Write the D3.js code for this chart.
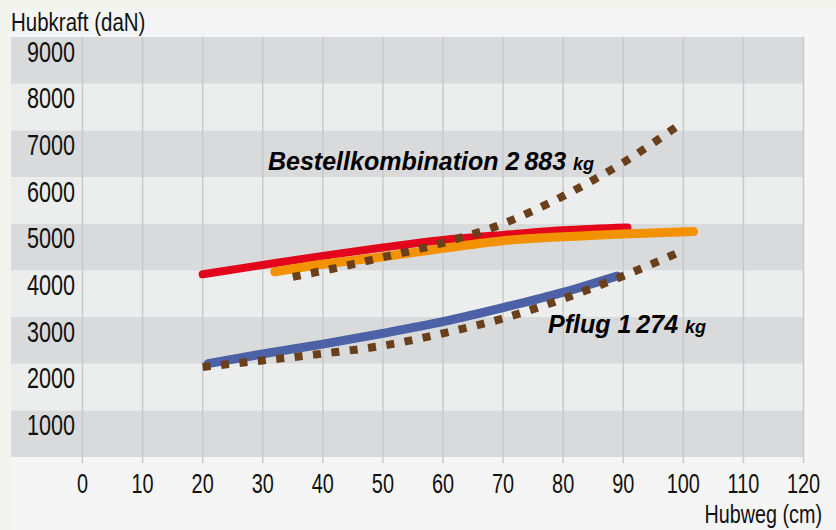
<!DOCTYPE html>
<html>
<head>
<meta charset="utf-8">
<script src="https://cdn.jsdelivr.net/npm/d3@7"></script>
<style>
  body { margin: 0; background: #f4f4ee; }
  svg { display: block; }
  .ax { font-family: "Liberation Sans", Arial, sans-serif; fill: #111; }
  .note { font-family: "Liberation Sans", Arial, sans-serif; font-weight: bold; font-style: italic; fill: #000; }
</style>
</head>
<body>
<div id="chart"></div>
<script>
// tick values
var xTicks = [0, 10, 20, 30, 40, 50, 60, 70, 80, 90, 100, 110, 120];
var yTicks = [1000, 2000, 3000, 4000, 5000, 6000, 7000, 8000, 9000];

// Bestellkombination (solid red / orange, dotted brown)
var redX = [20, 30, 40, 50, 60, 70, 80, 90.7];
var redY = [3915, 4115, 4310, 4490, 4650, 4760, 4860, 4920];
var orangeX = [32, 40, 50, 60, 70, 80, 90, 101.7];
var orangeY = [3970, 4130, 4290, 4470, 4635, 4720, 4780, 4830];
var bestDotX = [35, 40, 50, 60, 70, 80, 90, 100];
var bestDotY = [3860, 3990, 4280, 4590, 5000, 5590, 6310, 7180];

// Pflug
var blueX = [20.9, 30, 40, 50, 60, 70, 80, 89];
var blueY = [2000, 2210, 2420, 2650, 2900, 3200, 3530, 3880];
var pflugDotX = [20, 30, 40, 50, 60, 70, 80, 90, 99];
var pflugDotY = [1930, 2070, 2215, 2385, 2650, 2970, 3390, 3880, 4370];

var W = 836, H = 530;

var svg = d3.select("#chart").append("svg")
  .attr("width", W)
  .attr("height", H);

// inner panel
svg.append("rect")
  .attr("x", 11).attr("y", 9)
  .attr("width", W - 11).attr("height", H - 9)
  .attr("fill", "#f5f5f5");

var x = d3.scaleLinear().domain([0, 120]).range([82.5, 803.5]);
var y = d3.scaleLinear().domain([0, 9000]).range([457, 37]);

// horizontal bands
var bands = d3.range(0, 9000, 1000);
svg.selectAll("rect.band")
  .data(bands)
  .join("rect")
  .attr("class", "band")
  .attr("x", 11)
  .attr("width", x(120) - 11)
  .attr("y", function(d) { return y(d + 1000); })
  .attr("height", function(d) { return y(d) - y(d + 1000); })
  .attr("fill", function(d) { return (d / 1000) % 2 == 0 ? "#d9dadc" : "#eceeed"; });

// vertical grid
svg.selectAll("line.grid")
  .data(xTicks)
  .join("line")
  .attr("class", "grid")
  .attr("x1", function(d) { return x(d); })
  .attr("x2", function(d) { return x(d); })
  .attr("y1", y(9000))
  .attr("y2", y(0) + 6)
  .attr("stroke", "#c8c9cb")
  .attr("stroke-width", 1.5);

// narrow text: the original uses a condensed face
function narrow(sel, px, py, sx) {
  sel.attr("transform", "translate(" + px + "," + py + ") scale(" + sx + ",1)");
}

// x labels
svg.selectAll("text.xl")
  .data(xTicks)
  .join("text")
  .attr("class", "ax")
  .attr("text-anchor", "middle")
  .style("font-size", "28px")
  .each(function(d) { narrow(d3.select(this), x(d), 493, 0.71); })
  .text(function(d) { return d; });

// y labels (sit just under their value)
svg.selectAll("text.yl")
  .data(yTicks)
  .join("text")
  .attr("class", "ax")
  .attr("text-anchor", "end")
  .style("font-size", "30px")
  .each(function(d) { narrow(d3.select(this), 75, y(d) + 24.5, 0.72); })
  .text(function(d) { return d; });

// axis titles
svg.append("text")
  .attr("class", "ax")
  .style("font-size", "25px")
  .call(narrow, 11, 31, 0.82)
  .text("Hubkraft (daN)");

svg.append("text")
  .attr("class", "ax")
  .attr("text-anchor", "end")
  .style("font-size", "26px")
  .call(narrow, 822, 523, 0.76)
  .text("Hubweg (cm)");

function pts(xs, ys) {
  return xs.map(function(v, i) { return [v, ys[i]]; });
}

var line = d3.line()
  .x(function(d) { return x(d[0]); })
  .y(function(d) { return y(d[1]); })
  .curve(d3.curveMonotoneX);

var series = [
  {d: pts(redX, redY), color: "#e3051b", w: 8, dash: null},
  {d: pts(orangeX, orangeY), color: "#f39200", w: 9, dash: null},
  {d: pts(blueX, blueY), color: "#4d62a6", w: 9, dash: null},
  {d: pts(bestDotX, bestDotY), color: "#6a3f1b", w: 8, dash: "8,10.5"},
  {d: pts(pflugDotX, pflugDotY), color: "#6a3f1b", w: 8, dash: "8,10.5"}
];

svg.selectAll("path.series")
  .data(series)
  .join("path")
  .attr("class", "series")
  .attr("d", function(s) { return line(s.d); })
  .attr("fill", "none")
  .attr("stroke", function(s) { return s.color; })
  .attr("stroke-width", function(s) { return s.w; })
  .attr("stroke-linecap", function(s) { return s.dash ? "butt" : "round"; })
  .attr("stroke-dasharray", function(s) { return s.dash; });

// annotations
var t1 = svg.append("text")
  .attr("class", "note")
  .attr("x", 268)
  .attr("y", 170)
  .style("font-size", "25px");
t1.append("tspan").text("Bestellkombination 2\u2009883 ");
t1.append("tspan").style("font-size", "18px").text("kg");

var t2 = svg.append("text")
  .attr("class", "note")
  .attr("x", 548)
  .attr("y", 333)
  .style("font-size", "25px");
t2.append("tspan").text("Pflug 1\u2009274 ");
t2.append("tspan").style("font-size", "18px").text("kg");
</script>
</body>
</html>
